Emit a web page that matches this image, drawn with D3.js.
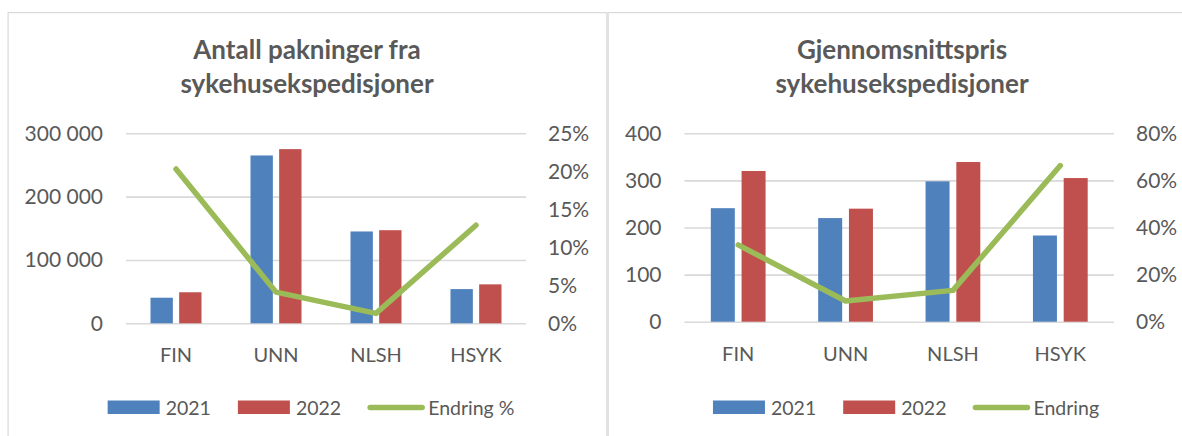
<!DOCTYPE html>
<html>

<head>
  <title>Sykehusekspedisjoner</title>
  <script src="https://cdn.jsdelivr.net/npm/d3@7"></script>
  <style type="text/css">
    body {
      margin: 0;
      background: #fff;
    }

    text {
      font-family: Lato, "Noto Sans", sans-serif;
      fill: #595959;
    }

    .title {
      font-weight: bold;
      font-size: 26px;
    }

    .tick text {
      font-size: 21px;
      fill: #595959;
    }

    .cat .tick text {
      font-size: 20px;
    }

    .legend text {
      font-size: 19.5px;
    }
  </style>
</head>

<body>
  <div id="chartArea"></div>
  <script type="text/javascript">
    const categories = ['FIN', 'UNN', 'NLSH', 'HSYK'];
    const seriesNames = ['2021', '2022'];

    // venstre: antall pakninger
    const pakninger2021 = [40400, 265000, 145000, 54000];
    const pakninger2022 = [49000, 275000, 147000, 61500];
    const pakningerEndring = [0.203, 0.041, 0.013, 0.129];
    const pakningerTicks = [0, 100000, 200000, 300000];
    const pakningerPctTicks = [0, 0.05, 0.10, 0.15, 0.20, 0.25];

    // høyre: gjennomsnittspris
    const pris2021 = [241, 220, 298, 183];
    const pris2022 = [320, 240, 339, 305];
    const prisEndring = [0.326, 0.088, 0.133, 0.663];
    const prisTicks = [0, 100, 200, 300, 400];
    const prisPctTicks = [0, 0.2, 0.4, 0.6, 0.8];

    const colors = { '2021': '#4F81BD', '2022': '#C0504D', line: '#9BBB59' };

    const W = 1182, H = 436;

    let svg = d3.select('#chartArea').append('svg')
      .attr('width', W)
      .attr('height', H);

    svg.append('rect').attr('width', W).attr('height', H).attr('fill', '#fff');

    // ramme
    svg.append('rect').attr('x', 8).attr('y', 12).attr('width', W - 8).attr('height', 1.2).attr('fill', '#d9d9d9');
    svg.append('rect').attr('x', 7.5).attr('y', 12).attr('width', 1.2).attr('height', H - 12).attr('fill', '#d9d9d9');
    svg.append('rect').attr('x', 606).attr('y', 12).attr('width', 3).attr('height', H - 12).attr('fill', '#e2e2e2');

    let thousands = d3.format(',');

    function drawChart(cfg) {
      let g = svg.append('g');

      let x = d3.scaleBand()
        .domain(categories)
        .range([cfg.left, cfg.right]);

      let gw = x.bandwidth() * 0.51;
      let x1 = d3.scaleBand()
        .domain(seriesNames)
        .range([(x.bandwidth() - gw) / 2, (x.bandwidth() + gw) / 2])
        .paddingInner(0.22);

      let y = d3.scaleLinear()
        .domain([0, cfg.yMax])
        .range([cfg.bottom, cfg.top]);

      let y2 = d3.scaleLinear()
        .domain([0, cfg.y2Max])
        .range([cfg.bottom, cfg.top]);

      // gridlines
      g.append('g')
        .attr('transform', `translate(${cfg.left},0)`)
        .call(d3.axisLeft(y).tickValues(cfg.yTicks).tickSize(-(cfg.right - cfg.left)).tickFormat(''))
        .call(s => s.select('.domain').remove())
        .call(s => s.selectAll('line').attr('stroke', '#d9d9d9').attr('stroke-width', 1.6));

      // venstre akse
      g.append('g')
        .attr('transform', `translate(${cfg.left},0)`)
        .call(d3.axisLeft(y).tickValues(cfg.yTicks).tickSize(0).tickPadding(23).tickFormat(cfg.yFormat))
        .call(s => s.select('.domain').remove());

      // høyre akse
      g.append('g')
        .attr('transform', `translate(${cfg.right},0)`)
        .call(d3.axisRight(y2).tickValues(cfg.y2Ticks).tickSize(0).tickPadding(22).tickFormat(d3.format('.0%')))
        .call(s => s.select('.domain').remove());

      // kategorier
      g.append('g')
        .attr('class', 'cat')
        .attr('transform', `translate(0,${cfg.bottom})`)
        .call(d3.axisBottom(x).tickSize(0).tickPadding(25))
        .call(s => s.select('.domain').remove());

      // stolper
      let rows = categories.map((c, i) => ({ cat: c, values: cfg.series.map((s, j) => ({ key: seriesNames[j], v: s[i] })) }));

      g.selectAll('.grp')
        .data(rows)
        .enter()
        .append('g')
        .attr('class', 'grp')
        .attr('transform', d => `translate(${x(d.cat)},0)`)
        .selectAll('rect')
        .data(d => d.values)
        .enter()
        .append('rect')
        .attr('x', d => x1(d.key))
        .attr('width', x1.bandwidth())
        .attr('y', d => y(d.v))
        .attr('height', d => y(0) - y(d.v))
        .attr('fill', d => colors[d.key]);

      // endringslinje
      let line = d3.line()
        .x((d, i) => x(categories[i]) + x.bandwidth() / 2)
        .y(d => y2(d));

      g.append('path')
        .datum(cfg.change)
        .attr('d', line)
        .attr('fill', 'none')
        .attr('stroke', colors.line)
        .attr('stroke-width', 5.5)
        .attr('stroke-linejoin', 'round')
        .attr('stroke-linecap', 'round');

      // tittel
      let t = g.append('text')
        .attr('class', 'title')
        .attr('text-anchor', 'middle');
      cfg.title.forEach((line, i) => {
        t.append('tspan')
          .attr('x', cfg.titleX)
          .attr('y', 59 + i * 33.5)
          .text(line);
      });

      // legend
      let lg = g.append('g').attr('class', 'legend');
      let items = [
        { label: seriesNames[0], type: 'rect', color: colors['2021'] },
        { label: seriesNames[1], type: 'rect', color: colors['2022'] },
        { label: cfg.lineLabel, type: 'line', color: colors.line }
      ];
      let cx = 0;
      items.forEach((it, i) => {
        let ig = lg.append('g').attr('transform', `translate(${cx},0)`);
        if (it.type === 'rect') {
          ig.append('rect').attr('x', 0).attr('y', -7).attr('width', 52).attr('height', 13.5).attr('fill', it.color);
        } else {
          ig.append('line').attr('x1', 2).attr('x2', 54).attr('y1', 0).attr('y2', 0)
            .attr('stroke', it.color).attr('stroke-width', 5.5).attr('stroke-linecap', 'round');
        }
        let tx = ig.append('text').attr('x', it.type === 'rect' ? 58 : 60).attr('y', 7).text(it.label);
        cx += (it.type === 'rect' ? 58 : 60) + tx.node().getComputedTextLength() + 27;
      });
      let bb = lg.node().getBBox();
      lg.attr('transform', `translate(${cfg.legendX - bb.width / 2},407.5)`);
    }

    drawChart({
      left: 126, right: 526, top: 133.3, bottom: 323.3,
      yMax: 300000, y2Max: 0.25,
      yTicks: pakningerTicks, y2Ticks: pakningerPctTicks,
      yFormat: d => thousands(d).replace(/,/g, ' '),
      series: [pakninger2021, pakninger2022],
      change: pakningerEndring,
      title: ['Antall pakninger fra', 'sykehusekspedisjoner'],
      titleX: 307,
      lineLabel: 'Endring %',
      legendX: 311
    });

    drawChart({
      left: 684.5, right: 1114, top: 133.3, bottom: 321.7,
      yMax: 400, y2Max: 0.8,
      yTicks: prisTicks, y2Ticks: prisPctTicks,
      yFormat: d3.format('d'),
      series: [pris2021, pris2022],
      change: prisEndring,
      title: ['Gjennomsnittspris', 'sykehusekspedisjoner'],
      titleX: 902,
      lineLabel: 'Endring',
      legendX: 906
    });
  </script>
</body>

</html>
